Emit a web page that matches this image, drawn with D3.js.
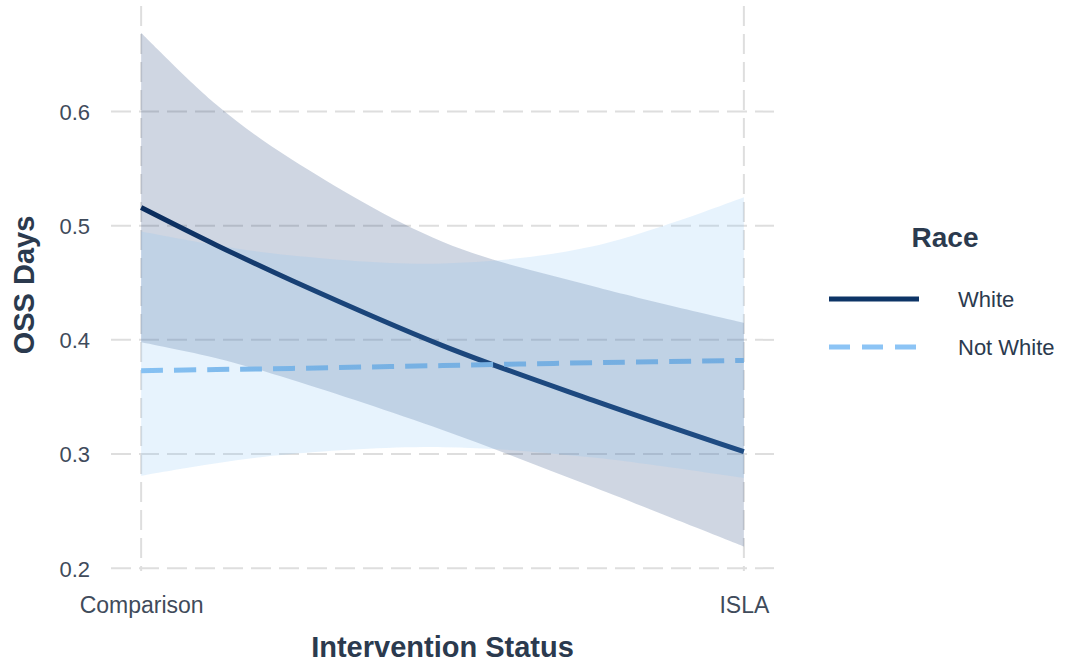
<!DOCTYPE html>
<html>
<head>
<meta charset="utf-8">
<script src="https://cdn.jsdelivr.net/npm/d3@7"></script>
<style>
  html, body { margin: 0; padding: 0; background: #ffffff; }
  svg { display: block; font-family: "Liberation Sans", Arial, Helvetica, sans-serif; }
</style>
</head>
<body>
<svg id="chart" width="1066" height="666"></svg>
<script>
// ---- data ----
const categories = ["Comparison", "ISLA"];
const categoryPos = [0, 1];
const xPos = [0, 0.125, 0.25, 0.5, 0.75, 1];

const whiteFit  = [0.516, 0.483, 0.452, 0.395, 0.347, 0.302];
const whiteLow  = [0.398, 0.384, 0.365, 0.321, 0.271, 0.219];
const whiteHigh = [0.669, 0.606, 0.558, 0.486, 0.447, 0.415];

const notWhiteFit  = [0.373, 0.374, 0.375, 0.3775, 0.380, 0.382];
const notWhiteLow  = [0.281, 0.292, 0.300, 0.306, 0.297, 0.279];
const notWhiteHigh = [0.495, 0.483, 0.474, 0.467, 0.482, 0.525];

const yTicks = [0.2, 0.3, 0.4, 0.5, 0.6];
const seriesNames = ["White", "Not White"];
const legendTitle = "Race";
const xTitle = "Intervention Status";
const yTitle = "OSS Days";

// ---- layout ----
const svg = d3.select("#chart");
const panel = { left: 111, right: 774, top: 6, bottom: 571 };
const x = d3.scaleLinear().domain([-0.05, 1.05]).range([panel.left, panel.right]);
const y = d3.scaleLinear().domain([0.1975, 0.6925]).range([panel.bottom, panel.top]);

const tickColor = "#3f4b5b";
const titleColor = "#2b3a4e";
const gridColor = "#dedede";

// gridlines
const g = svg.append("g");
g.selectAll("line.hgrid").data(yTicks).enter().append("line")
  .attr("x1", panel.left).attr("x2", panel.right)
  .attr("y1", d => y(d)).attr("y2", d => y(d))
  .attr("stroke", gridColor).attr("stroke-width", 2).attr("stroke-dasharray", "20,8");
g.selectAll("line.vgrid").data(categoryPos).enter().append("line")
  .attr("y1", panel.top).attr("y2", panel.bottom)
  .attr("x1", d => x(d)).attr("x2", d => x(d))
  .attr("stroke", gridColor).attr("stroke-width", 2).attr("stroke-dasharray", "20,8");

// build rows
const whiteRows = xPos.map((t, i) => ({ t, fit: whiteFit[i], lo: whiteLow[i], hi: whiteHigh[i] }));
const notWhiteRows = xPos.map((t, i) => ({ t, fit: notWhiteFit[i], lo: notWhiteLow[i], hi: notWhiteHigh[i] }));

const curve = d3.curveCatmullRom.alpha(0.5);
const area = d3.area().x(d => x(d.t)).y0(d => y(d.lo)).y1(d => y(d.hi)).curve(curve);
const line = d3.line().x(d => x(d.t)).y(d => y(d.fit)).curve(curve);

// gradients for the lines
const defs = svg.append("defs");
const gw = defs.append("linearGradient").attr("id", "gWhite")
  .attr("gradientUnits", "userSpaceOnUse")
  .attr("x1", x(0)).attr("x2", x(1)).attr("y1", 0).attr("y2", 0);
gw.append("stop").attr("offset", "0%").attr("stop-color", "#0a2c5c");
gw.append("stop").attr("offset", "30%").attr("stop-color", "#1a4479");
gw.append("stop").attr("offset", "100%").attr("stop-color", "#1f4c83");
const gn = defs.append("linearGradient").attr("id", "gNot")
  .attr("gradientUnits", "userSpaceOnUse")
  .attr("x1", x(0)).attr("x2", x(1)).attr("y1", 0).attr("y2", 0);
gn.append("stop").attr("offset", "0%").attr("stop-color", "#86c1f3");
gn.append("stop").attr("offset", "30%").attr("stop-color", "#78b2e4");
gn.append("stop").attr("offset", "100%").attr("stop-color", "#74ade0");

// ribbons
svg.append("path").datum(whiteRows).attr("d", area)
  .attr("fill", "#08306b").attr("fill-opacity", 0.195);
svg.append("path").datum(notWhiteRows).attr("d", area)
  .attr("fill", "#85c1f5").attr("fill-opacity", 0.2);

// lines
svg.append("path").datum(whiteRows).attr("d", line)
  .attr("fill", "none").attr("stroke", "url(#gWhite)").attr("stroke-width", 5);
svg.append("path").datum(notWhiteRows).attr("d", line)
  .attr("fill", "none").attr("stroke", "url(#gNot)").attr("stroke-width", 5)
  .attr("stroke-dasharray", "22,11");

// y axis labels
const yAxis = d3.axisLeft(y).tickValues(yTicks).tickFormat(d3.format(".1f")).tickSize(0).tickPadding(0);
const ya = svg.append("g").attr("transform", "translate(90,0)").call(yAxis);
ya.select(".domain").remove();
ya.selectAll("text").attr("font-size", 22).attr("fill", tickColor)
  .attr("font-family", "Liberation Sans, Arial, sans-serif").attr("dy", "0.36em");

// x axis labels
const xAxis = d3.axisBottom(x).tickValues(categoryPos).tickFormat((d, i) => categories[i]).tickSize(0).tickPadding(0);
const xa = svg.append("g").attr("transform", "translate(0,596)").call(xAxis);
xa.select(".domain").remove();
xa.selectAll("text").attr("font-size", 23).attr("fill", tickColor)
  .attr("font-family", "Liberation Sans, Arial, sans-serif").attr("dy", "0.72em");

// axis titles
svg.append("text").attr("x", (x(0) + x(1)) / 2).attr("y", 657)
  .attr("text-anchor", "middle").attr("font-size", 29).attr("font-weight", "bold")
  .attr("fill", titleColor).text(xTitle);
svg.append("text").attr("transform", "translate(34,285) rotate(-90)")
  .attr("text-anchor", "middle").attr("font-size", 29).attr("font-weight", "bold")
  .attr("fill", titleColor).text(yTitle);

// legend
const lg = svg.append("g");
lg.append("text").attr("x", 945).attr("y", 247).attr("text-anchor", "middle")
  .attr("font-size", 28).attr("font-weight", "bold").attr("fill", titleColor).text(legendTitle);
const legendY = d3.scalePoint().domain(seriesNames).range([299, 347]);
const legendStyle = {
  "White": { color: "#0d3466", dash: null },
  "Not White": { color: "#8cc4f5", dash: "21,12" }
};
seriesNames.forEach(name => {
  const ly = legendY(name);
  const ln = lg.append("line").attr("x1", 829).attr("x2", 919).attr("y1", ly).attr("y2", ly)
    .attr("stroke", legendStyle[name].color).attr("stroke-width", 5);
  if (legendStyle[name].dash) ln.attr("stroke-dasharray", legendStyle[name].dash);
  lg.append("text").attr("x", 958).attr("y", ly).attr("dy", "0.36em")
    .attr("font-size", 22).attr("fill", titleColor).text(name);
});
</script>
</body>
</html>
